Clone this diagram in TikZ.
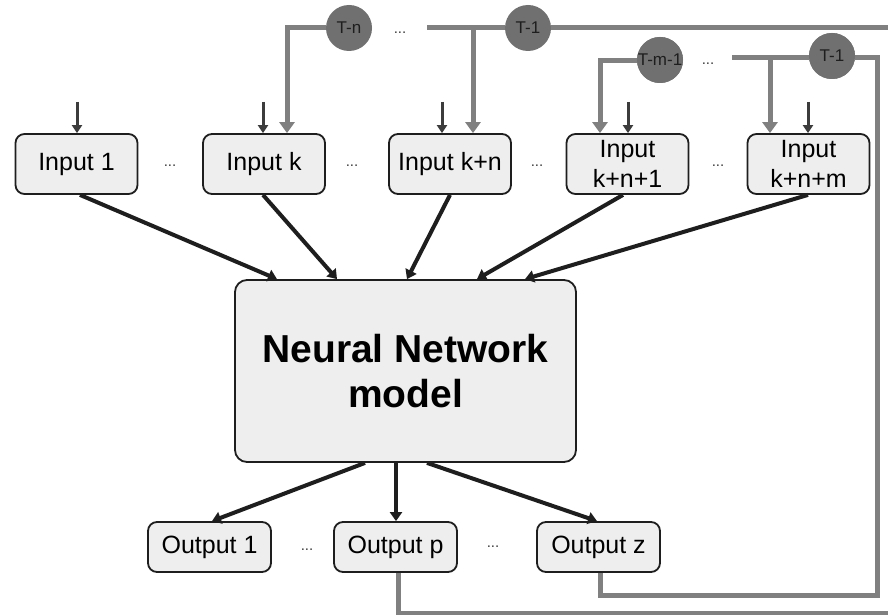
\documentclass[tikz,border=0pt]{standalone}
\usepackage{fontspec}
\setmainfont{Liberation Sans}
\usetikzlibrary{arrows.meta}
\definecolor{boxfill}{HTML}{EEEEEE}
\definecolor{lgray}{HTML}{808080}
\definecolor{cgray}{HTML}{707070}
\definecolor{dgray}{HTML}{3C3C3C}
\definecolor{ink}{HTML}{1E1E1E}
\tikzset{
  inbox/.style={draw=ink, line width=1.8pt, fill=boxfill, rounded corners=9pt,
    minimum width=122pt, minimum height=60pt, inner sep=0pt, align=center,
    font=\fontsize{25}{30}\selectfont},
  outbox/.style={inbox, minimum width=123pt, minimum height=50pt},
  nnbox/.style={draw=ink, line width=1.8pt, fill=boxfill, rounded corners=12pt,
    minimum width=341pt, minimum height=182pt, align=center,
    font=\fontsize{39}{45}\selectfont\bfseries},
  gline/.style={draw=lgray, line width=5pt},
  garrow/.style={gline, -{Triangle[width=15pt,length=11pt]}},
  darrow/.style={draw=dgray, line width=3pt, -{Triangle[width=10pt,length=8pt]}},
  marrow/.style={draw=ink, line width=4pt, -{Triangle[width=12pt,length=9pt]}},
  tcirc/.style={circle, fill=cgray, minimum size=46pt, inner sep=0pt},
  tlabel/.style={text=ink, font=\fontsize{17}{20}\selectfont, inner sep=0pt},
  dots/.style={text=dgray, font=\fontsize{15}{18}\selectfont, inner sep=0pt},
}
\begin{document}
\begin{tikzpicture}[x=1pt, y=-1pt]
\clip (0,0) rectangle (888,615);
\fill[white] (0,0) rectangle (888,615);

% input boxes
\node[inbox] (in1) at (76.5,164) {Input 1};
\node[inbox] (ink) at (264,164) {Input k};
\node[inbox] (inkn) at (450,164) {Input k+n};
\node[inbox] (inkn1) at (627.5,164) {Input\\k+n+1};
\node[inbox] (inknm) at (808.5,164) {Input\\k+n+m};

\node[dots] (dA) at (170,166) {...};
\node[dots] (dB) at (352,166) {...};
\node[dots] (dC) at (537,166) {...};
\node[dots] (dD) at (718,166) {...};

% main box
\node[nnbox] (nn) at (405.5,371) {Neural Network\\model};

% outputs
\node[outbox] (o1) at (209.5,547) {Output 1};
\node[outbox] (op) at (395.5,547) {Output p};
\node[outbox] (oz) at (598.5,547) {Output z};
\node[dots] (dE) at (307,550) {...};
\node[dots] (dF) at (493,547) {...};

% delay circles
\node[tcirc] (tn) at (349,28) {};
\node[tlabel] (tnl) at (tn) {T-n};
\node[tcirc] (t1a) at (528,28) {};
\node[tlabel] (t1al) at (t1a) {T-1};
\node[tcirc] (tm) at (660,60) {};
\node[tcirc] (t1b) at (832,56) {};
\node[dots] (dG) at (400,33) {...};
\node[dots] (dH) at (708,64) {...};

% coordinates for feedback lines
\coordinate (la) at (427,28);
\coordinate (ba) at (473,28);
\coordinate (lb) at (732,58);
\coordinate (bb) at (770,58);
\coordinate (pc2) at (900,613);
\coordinate (pc3) at (900,28);
\coordinate (zc1) at (877,595);
\coordinate (zc2) at (877,58);

% outer feedback loop (Output p)
\draw[gline] ([xshift=2.5pt]op.south) |- (pc2) -- (pc3) -- (t1a.east);
\draw[gline] (la) -- (t1a.west);
\draw[garrow] (ba) -- ([xshift=23pt]inkn.north);
\draw[garrow] (tn.west) -| ([xshift=23pt]ink.north);

% inner feedback loop (Output z)
\draw[gline] ([xshift=1.5pt]oz.south) |- (zc1) -- (zc2) -- (t1b.east |- zc2);
\draw[gline] (lb) -- (t1b.west |- lb);
\draw[garrow] (bb) -- ([xshift=-38.5pt]inknm.north);
\draw[garrow] ([yshift=-1pt]tm.west) -| ([xshift=-27.5pt]inkn1.north);
\node[tcirc] (tm2) at (tm) {};
\node[tlabel] (tml) at (tm) {T-m-1};
\node[tcirc] (t1b2) at (t1b) {};
\node[tlabel] (t1bl2) at (t1b) {T-1};

% external inputs
\coordinate (e1) at (77,102);
\coordinate (e2) at (263,102);
\coordinate (e3) at (442,102);
\coordinate (e4) at (628,102);
\coordinate (e5) at (808,102);
\draw[darrow] (e1) -- (e1 |- in1.north);
\draw[darrow] (e2) -- (e2 |- ink.north);
\draw[darrow] (e3) -- (e3 |- inkn.north);
\draw[darrow] (e4) -- (e4 |- inkn1.north);
\draw[darrow] (e5) -- (e5 |- inknm.north);

% inputs to model
\draw[marrow] ([xshift=3.5pt]in1.south) -- ([xshift=-128.5pt]nn.north);
\draw[marrow] ([xshift=-1pt]ink.south) -- ([xshift=-68.5pt]nn.north);
\draw[marrow] (inkn.south) -- ([xshift=1.5pt]nn.north);
\draw[marrow] ([xshift=-4.5pt]inkn1.south) -- ([xshift=71.5pt]nn.north);
\draw[marrow] ([xshift=-0.5pt]inknm.south) -- ([xshift=119.5pt]nn.north);

% model to outputs
\draw[marrow] ([xshift=-40.5pt]nn.south) -- ([xshift=2.5pt]o1.north);
\draw[marrow] ([xshift=-9.5pt]nn.south) -- ([xshift=0.5pt]op.north);
\draw[marrow] ([xshift=21.5pt]nn.south) -- ([xshift=-1.5pt]oz.north);
\end{tikzpicture}
\end{document}
